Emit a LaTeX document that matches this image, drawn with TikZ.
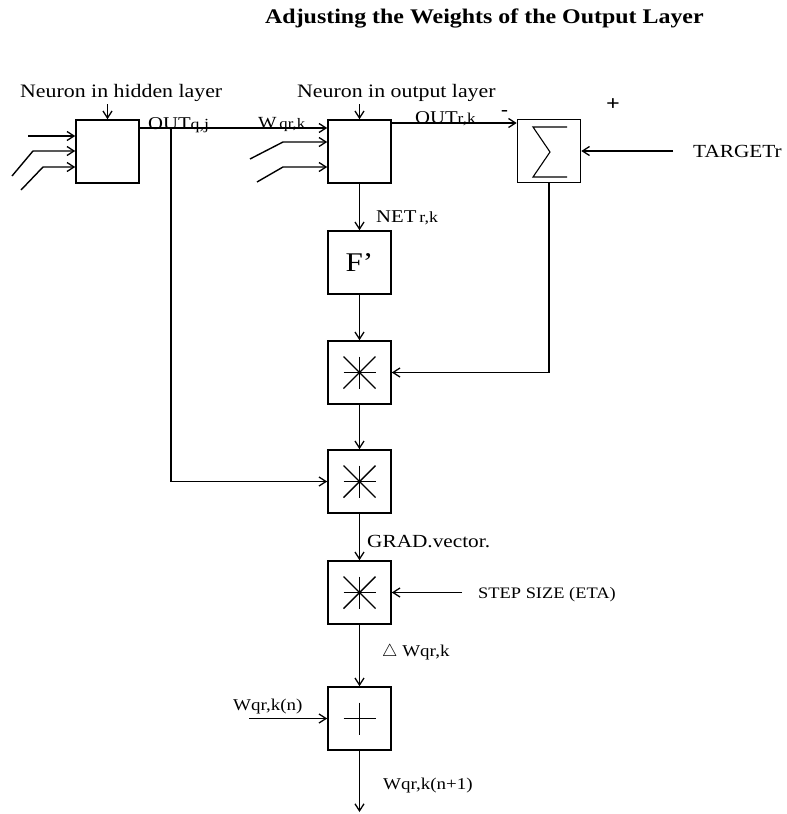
\documentclass[tikz,border=0pt]{standalone}
\usepackage{fontspec}
\setmainfont{Liberation Serif}[FakeStretch=1.15]
\usetikzlibrary{arrows.meta}
\newcommand\fs[1]{\fontsize{#1}{#1}\selectfont}
\begin{document}
\begin{tikzpicture}[x=1pt,y=-1pt,
  blk/.style={draw,line width=1.6pt,minimum width=63pt,minimum height=63pt,inner sep=0pt},
  wire/.style={line width=1.4pt},
  arr/.style={wire,-{Straight Barb[length=7pt,width=9pt,line width=1.3pt]}},
  lbl/.style={inner sep=0pt,anchor=base west},
]
\useasboundingbox (0,0) rectangle (787,814);

% title and labels
\node[lbl,font=\fs{20.8}\bfseries] (title) at (265,23) {Adjusting the Weights of the Output Layer};
\node[lbl,font=\fs{19}] (lhid) at (20,97) {Neuron in hidden layer};
\node[lbl,font=\fs{19}] (lout) at (297,97) {Neuron in output layer};

% blocks
\node[blk] (hid) at (107.5,151.5) {};
\node[blk] (outn) at (359.5,151.5) {};
\node[blk] (sum) at (549,151) {};
\node[blk,font=\fs{27}] (fp) at (359.5,262.5) {F’};
\node[blk] (m1) at (359.5,372.5) {};
\node[blk] (m2) at (359.5,481.5) {};
\node[blk] (m3) at (359.5,592.5) {};
\node[blk] (add) at (359.5,718.5) {};

% symbols inside blocks
\foreach \n in {m1,m2,m3}{
  \draw[wire] ([shift={(-16,0)}]\n.center) -- ([shift={(16,0)}]\n.center);
  \draw[wire] ([shift={(0,-16)}]\n.center) -- ([shift={(0,16)}]\n.center);
  \draw[wire] ([shift={(-16,-16)}]\n.center) -- ([shift={(16,16)}]\n.center);
  \draw[wire] ([shift={(-16,16)}]\n.center) -- ([shift={(16,-16)}]\n.center);
}
\draw[wire] ([shift={(-16,0)}]add.center) -- ([shift={(16,0)}]add.center);
\draw[wire] ([shift={(0,-16)}]add.center) -- ([shift={(0,16)}]add.center);
\draw[line width=1.1pt,line join=miter] ([shift={(18,-24)}]sum.center) -- ([shift={(-16,-24)}]sum.center)
  -- ([shift={(1,1)}]sum.center) -- ([shift={(-16,26)}]sum.center) -- ([shift={(18,26)}]sum.center);

% hidden neuron inputs
\coordinate (hidtop) at (107.5,104);
\draw[arr] (hidtop) -- (hid.north);
\coordinate (hi1) at (28,136);
\draw[arr] (hi1) -- (hi1 -| hid.west);
\coordinate (hi2a) at (12,176); \coordinate (hi2b) at (33,151);
\draw[arr] (hi2a) -- (hi2b) -- (hi2b -| hid.west);
\coordinate (hi3a) at (21,190); \coordinate (hi3b) at (43,167);
\draw[arr] (hi3a) -- (hi3b) -- (hi3b -| hid.west);

% hidden output
\coordinate (jn) at (171,128);
\draw[wire] (jn -| hid.east) -- (jn);
\draw[arr] (jn) -- (jn -| outn.west);
\draw[arr] (jn) |- (m2.west);
\node[lbl,font=\fs{18}] (louq) at (148,129) {OUT\fs{15.5}q,j};
\node[lbl,font=\fs{17}] (lw) at (258,128.5) {W\,\fs{14.5}qr,k};

% output neuron inputs
\coordinate (outtop) at (359.5,104);
\draw[arr] (outtop) -- (outn.north);
\coordinate (oi2a) at (250,159); \coordinate (oi2b) at (283,142);
\draw[arr] (oi2a) -- (oi2b) -- (oi2b -| outn.west);
\coordinate (oi3a) at (257,182); \coordinate (oi3b) at (283,167);
\draw[arr] (oi3a) -- (oi3b) -- (oi3b -| outn.west);

% output to sum
\coordinate (ok) at (450,123);
\draw[arr] (ok -| outn.east) -- (ok -| sum.west);
\node[lbl,font=\fs{18}] (lour) at (415,123.5) {OUT\fs{15}r,k};
\node[lbl,font=\fs{18}\bfseries] (lminus) at (501,115) {-};
\node[lbl,font=\fs{21}\bfseries] (lplus) at (606,110) {+};
\coordinate (tg) at (673,151);
\draw[arr] (tg) -- (sum.east);
\node[lbl,font=\fs{18.5}] (ltarget) at (693,157) {TARGETr};

% chain
\draw[arr] (outn.south) -- (fp.north);
\node[lbl,font=\fs{18}] (lnet) at (376,222) {NET\,\fs{15.5}r,k};
\draw[arr] (fp.south) -- (m1.north);
\draw[arr] (sum.south) |- (m1.east);
\draw[arr] (m1.south) -- (m2.north);
\draw[arr] (m2.south) -- (m3.north);
\node[lbl,font=\fs{18.5}] (lgrad) at (367,547) {GRAD.vector.};
\coordinate (eta) at (462,592.5);
\draw[arr] (eta) -- (m3.east);
\node[lbl,font=\fs{16}] (lstep) at (478,598) {STEP SIZE (ETA)};
\draw[arr] (m3.south) -- (add.north);
\node[lbl,font=\fs{16.5}] (ldw) at (382,656) {$\triangle$ Wqr,k};
\coordinate (wn) at (249,718.5);
\draw[arr] (wn) -- (add.west);
\node[lbl,font=\fs{16.5}] (lwn) at (233,710) {Wqr,k(n)};
\coordinate (wout) at (359.5,812);
\draw[arr] (add.south) -- (wout);
\node[lbl,font=\fs{16.5}] (lwn1) at (383,789) {Wqr,k(n+1)};
\end{tikzpicture}
\end{document}
